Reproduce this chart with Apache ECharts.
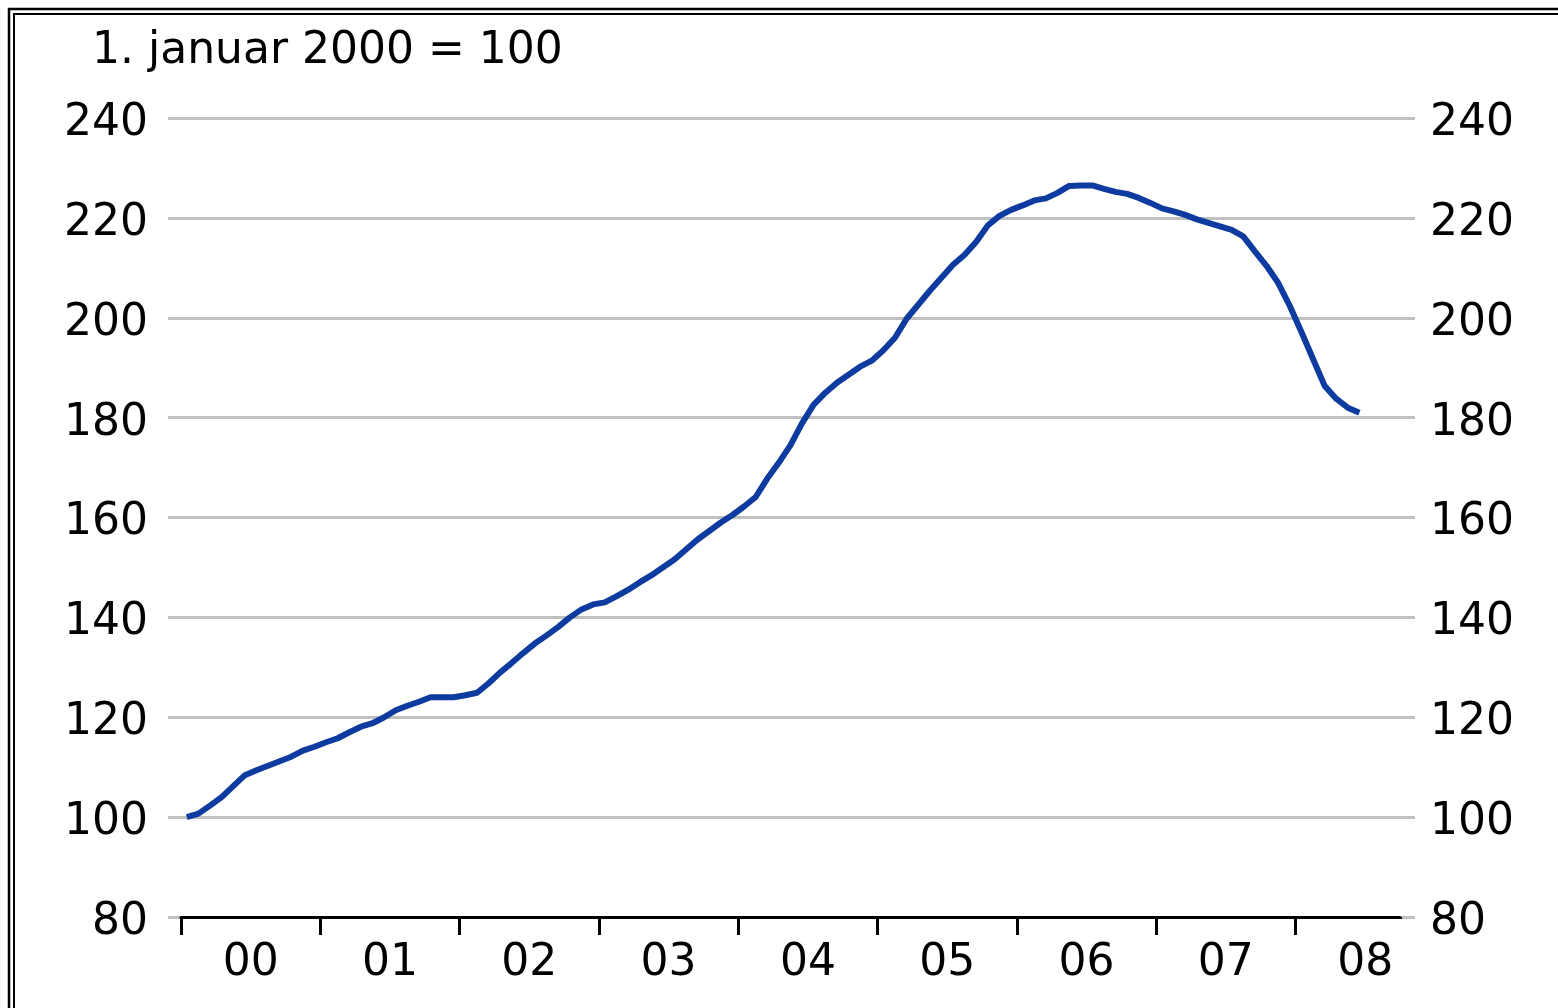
<!DOCTYPE html>
<html>
<head>
    <meta charset="utf-8">
    <title>Boligpriser</title>
    <script src="https://cdn.jsdelivr.net/npm/echarts@6/dist/echarts.min.js"></script>
    <style>
        html, body { margin: 0; padding: 0; background: #fff; }
    </style>
</head>
<body>
<div id="main" style="width:1558px;height:1008px;"></div>
<script type="text/javascript">
    // år på x-aksen (08 er bare 9 måneder lang)
    var yearLabels = ['00', '01', '02', '03', '04', '05', '06', '07', '08'];
    var monthsInLastYear = 9;
    // y-akse
    var yTicks = [80, 100, 120, 140, 160, 180, 200, 220, 240];
    // indeks, månedlig, jan 2000 - jun 2008
    var indexValues = [
        100, 100.7, 102.3, 104, 106.2, 108.4, 109.4, 110.3, 111.2, 112.1, 113.3, 114.1,
        115, 115.8, 117, 118.1, 118.8, 120, 121.4, 122.3, 123.1, 124, 124, 124,
        124.4, 124.9, 126.8, 129, 130.9, 132.9, 134.8, 136.4, 138.1, 140, 141.6, 142.6,
        143, 144.2, 145.5, 147, 148.4, 150, 151.6, 153.6, 155.6, 157.3, 159, 160.5,
        162.2, 164.1, 167.8, 171, 174.5, 178.9, 182.6, 185, 187, 188.6, 190.2, 191.4,
        193.5, 196, 199.8, 202.6, 205.4, 208, 210.6, 212.6, 215.2, 218.5, 220.4, 221.6,
        222.5, 223.5, 223.9, 225, 226.4, 226.5, 226.5, 225.8, 225.2, 224.8, 224, 223,
        221.9, 221.3, 220.6, 219.7, 219, 218.3, 217.6, 216.3, 213.3, 210.4, 207, 202.4,
        197.2, 191.8, 186.4, 183.8, 182, 181
    ];

    // kategorier: en per måned
    var months = [];
    for (var y = 0; y < yearLabels.length; y++) {
        var n = (y === yearLabels.length - 1) ? monthsInLastYear : 12;
        for (var m = 0; m < n; m++) {
            months.push(yearLabels[y] + '-' + (m + 1));
        }
    }

    var FONT = 'DejaVu Sans';
    var FS = 44;
    var yMin = yTicks[0], yMax = yTicks[yTicks.length - 1], yStep = yTicks[1] - yTicks[0];

    var myChart = echarts.init(document.getElementById('main'));

    var option = {
        animation: false,
        backgroundColor: '#ffffff',
        title: {
            text: '1. januar 2000 = 100',
            left: 92,
            top: 30,
            padding: 0,
            textStyle: { fontFamily: FONT, fontSize: FS, fontWeight: 'normal', color: '#000' }
        },
        graphic: [
            { type: 'rect', shape: { x: 9, y: 9, width: 1700, height: 1100 },
              style: { fill: null, stroke: '#000', lineWidth: 2.5 } },
            { type: 'rect', shape: { x: 14, y: 14, width: 1700, height: 1100 },
              style: { fill: null, stroke: '#000', lineWidth: 2 } },
            // ingen strek ved slutten av aksen
            { type: 'rect', z: 100, shape: { x: 1396, y: 919, width: 8, height: 20 },
              style: { fill: '#fff' } }
        ],
        grid: [
            { left: 168, right: 143, top: 118, bottom: 91 },
            { left: 181, right: 158, top: 118, bottom: 91 }
        ],
        xAxis: [
            { type: 'value', gridIndex: 0, show: false, min: 0, max: 1 },
            {
                type: 'category',
                gridIndex: 1,
                data: months,
                boundaryGap: true,
                axisLine: { lineStyle: { color: '#000', width: 3 } },
                axisTick: {
                    show: true,
                    length: 18,
                    interval: 11,
                    lineStyle: { color: '#000', width: 3 }
                },
                axisLabel: {
                    interval: function (i) { return i % 12 === 6; },
                    formatter: function (v) { return v.split('-')[0]; },
                    margin: 25,
                    padding: [0, 11.6, 0, 0],
                    fontFamily: FONT,
                    fontSize: FS,
                    color: '#000'
                },
                splitLine: { show: false }
            }
        ],
        yAxis: [
            {
                type: 'value', gridIndex: 0, position: 'left',
                min: yMin, max: yMax, interval: yStep,
                axisLine: { show: false }, axisTick: { show: false },
                axisLabel: { margin: 20, verticalAlign: 'top', lineHeight: 11,
                    fontFamily: FONT, fontSize: FS, color: '#000' },
                splitLine: { lineStyle: { color: '#c0c0c0', width: 3 } }
            },
            {
                type: 'value', gridIndex: 0, position: 'right',
                min: yMin, max: yMax, interval: yStep,
                axisLine: { show: false }, axisTick: { show: false },
                axisLabel: { margin: 15, verticalAlign: 'top', lineHeight: 11,
                    fontFamily: FONT, fontSize: FS, color: '#000' },
                splitLine: { show: false }
            },
            {
                type: 'value', gridIndex: 1, show: false,
                min: yMin, max: yMax, interval: yStep,
                splitLine: { show: false }
            }
        ],
        series: [
            {
                name: 'Indeks',
                type: 'line',
                xAxisIndex: 1,
                yAxisIndex: 2,
                data: indexValues,
                showSymbol: false,
                lineStyle: { color: '#0d3ba0', width: 6 },
                z: 5
            }
        ]
    };

    myChart.setOption(option);
</script>
</body>
</html>
